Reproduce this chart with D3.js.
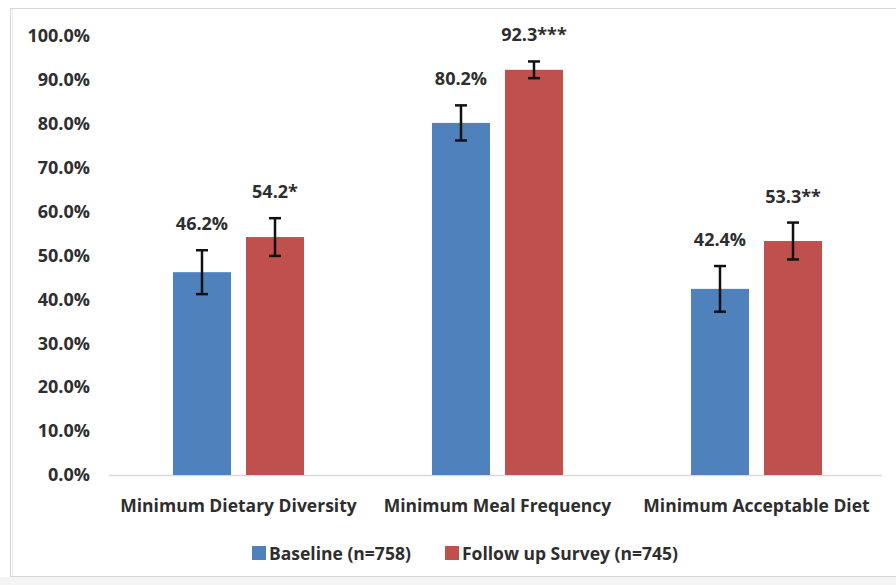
<!DOCTYPE html>
<html>
<head>
<meta charset="utf-8">
<script src="https://cdn.jsdelivr.net/npm/d3@7"></script>
<style>
  html, body { margin: 0; padding: 0; background: #ffffff; }
  svg { display: block; }
  text { font-family: "Open Sans", Lato, sans-serif; font-weight: bold; fill: #2e2e2e; }
</style>
</head>
<body>
<svg id="chart" width="896" height="585"></svg>
<script>
// Indicator categories
const categories = ["Minimum Dietary Diversity", "Minimum Meal Frequency", "Minimum Acceptable Diet"];
// Series names shown in the legend
const seriesNames = ["Baseline (n=758)", "Follow up Survey (n=745)"];
// Percentages per series
const baselineValues = [46.2, 80.2, 42.4];
const followUpValues = [54.2, 92.3, 53.3];
// Error margins (± percentage points)
const baselineErrors = [5.0, 4.0, 5.2];
const followUpErrors = [4.3, 1.9, 4.2];
// Value labels above bars
const baselineLabels = ["46.2%", "80.2%", "42.4%"];
const followUpLabels = ["54.2*", "92.3***", "53.3**"];
// Y-axis ticks
const yTicks = [0, 10, 20, 30, 40, 50, 60, 70, 80, 90, 100];

const colors = ["#4F81BD", "#C0504D"];
const FONT = "'Open Sans', Lato, sans-serif";
const FS = "17.5px";
const FS_NUM = "18px";

const svg = d3.select("#chart");
const W = 896, H = 585;

// Chart frame and bottom strip
svg.append("rect").attr("x", 0).attr("y", 577).attr("width", W).attr("height", 8).attr("fill", "#f4f4f4");
svg.append("rect").attr("x", 10.5).attr("y", 8.5).attr("width", 900).attr("height", 568)
  .attr("fill", "none").attr("stroke", "#d6d6d6").attr("stroke-width", 1);
svg.append("line").attr("x1", 12.5).attr("x2", 12.5).attr("y1", 9).attr("y2", 576)
  .attr("stroke", "#ececec");

const plotLeft = 109, plotRight = 886, plotTop = 36, plotBottom = 475;

const y = d3.scaleLinear().domain([0, 100]).range([plotBottom, plotTop]);
const x0 = d3.scaleBand().domain(categories).range([plotLeft, plotRight])
  .paddingInner(0.494).paddingOuter(0.247);
const x1 = d3.scaleBand().domain([0, 1]).range([0, x0.bandwidth()]).paddingInner(0.205);

// Y axis labels
const yAxis = d3.axisLeft(y).tickValues(yTicks).tickSize(0).tickPadding(0)
  .tickFormat(d => d3.format(".1f")(d) + "%");
const gy = svg.append("g").attr("transform", `translate(90,0)`).call(yAxis);
gy.select(".domain").remove();
gy.selectAll("text").style("font-size", FS_NUM).attr("fill", "#2e2e2e")
  .style("font-family", FONT).style("font-weight", "bold");

// Category axis baseline
const xAxis = d3.axisBottom(x0).tickSize(0).tickPadding(0);
const gx = svg.append("g").attr("transform", `translate(0,${plotBottom + 0.5})`).call(xAxis);
gx.select(".domain").attr("stroke", "#d9d9d9").attr("stroke-width", 1.5)
  .attr("d", `M${plotLeft},0H${plotRight - 4}`);
gx.selectAll("text").attr("dy", 0).attr("y", 36).style("font-size", FS)
  .attr("fill", "#2e2e2e").style("font-family", FONT).style("font-weight", "bold");

// Rows of data per series
const series = [
  { values: baselineValues, errors: baselineErrors, labels: baselineLabels },
  { values: followUpValues, errors: followUpErrors, labels: followUpLabels }
];

const groups = svg.append("g").selectAll("g")
  .data(categories).join("g")
  .attr("transform", d => `translate(${x0(d)},0)`);

groups.each(function (cat, ci) {
  const g = d3.select(this);
  series.forEach((s, si) => {
    const v = s.values[ci], e = s.errors[ci];
    const bx = x1(si), bw = x1.bandwidth(), cx = bx + bw / 2;
    g.append("rect")
      .attr("x", bx).attr("y", y(v))
      .attr("width", bw).attr("height", y(0) - y(v))
      .attr("fill", colors[si]);
    // error bar
    const eg = g.append("g").attr("stroke", "#111").attr("stroke-width", 2.5);
    eg.append("line").attr("x1", cx).attr("x2", cx).attr("y1", y(v + e)).attr("y2", y(v - e));
    eg.append("line").attr("x1", cx - 6).attr("x2", cx + 6).attr("y1", y(v + e)).attr("y2", y(v + e));
    eg.append("line").attr("x1", cx - 6).attr("x2", cx + 6).attr("y1", y(v - e)).attr("y2", y(v - e));
    // value label
    g.append("text")
      .attr("x", cx).attr("y", y(v + e) - 27)
      .attr("text-anchor", "middle").attr("dominant-baseline", "central")
      .style("font-size", FS_NUM)
      .text(s.labels[ci]);
  });
});

// Legend
const legend = svg.append("g").attr("transform", "translate(0,553)");
const legendX = [252, 445];
seriesNames.forEach((name, i) => {
  legend.append("rect").attr("x", legendX[i]).attr("y", -7).attr("width", 14).attr("height", 14)
    .attr("fill", colors[i]);
  legend.append("text").attr("x", legendX[i] + 17).attr("y", 0)
    .attr("dominant-baseline", "central").style("font-size", FS).text(name);
});
</script>
</body>
</html>
